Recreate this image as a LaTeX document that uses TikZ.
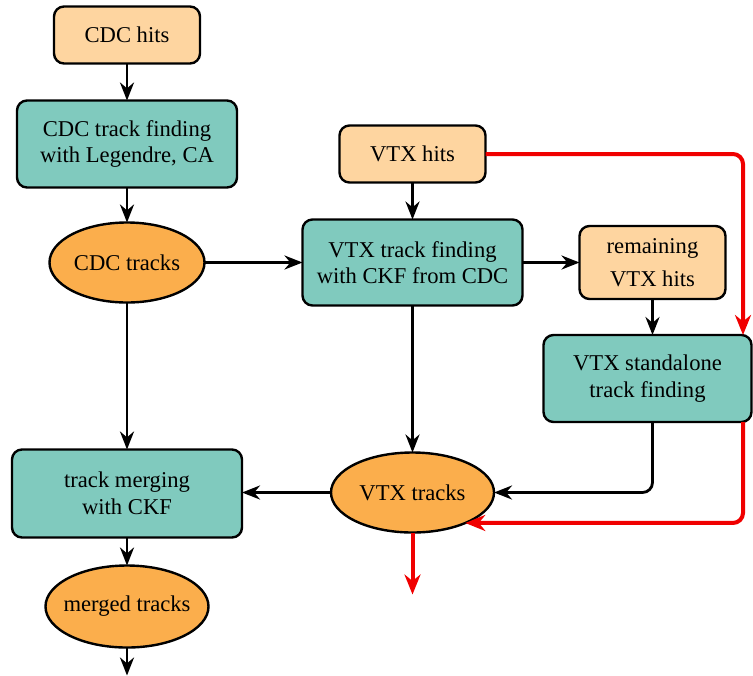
\documentclass[tikz,border=0pt]{standalone}
\usepackage{fontspec}
\setmainfont{Liberation Serif}
\usetikzlibrary{arrows.meta}
\usetikzlibrary{positioning}
\usetikzlibrary{shapes.geometric}

\definecolor{hitfill}{RGB}{254,213,160}
\definecolor{algfill}{RGB}{128,202,190}
\definecolor{trkfill}{RGB}{251,174,76}
\definecolor{redline}{RGB}{240,0,0}

\tikzset{
  hits/.style={draw, line width=1.2pt, outer sep=0pt, rounded corners=5pt, fill=hitfill, align=center,
    minimum width=73pt, minimum height=28.5pt, font=\fontsize{11.3}{13.3}\selectfont},
  algo/.style={draw, line width=1.2pt, outer sep=0pt, rounded corners=5pt, fill=algfill, align=center,
    minimum width=110pt, minimum height=43.5pt, font=\fontsize{11.3}{13.3}\selectfont},
  tracks/.style={draw, ellipse, line width=1.2pt, outer sep=0pt, fill=trkfill, inner xsep=-3pt,
    minimum width=81.5pt, minimum height=40pt, font=\fontsize{11.3}{13.3}\selectfont},
  flow/.style={-{Stealth[length=9pt,width=7pt]}, line width=1.4pt},
  redflow/.style={-{Stealth[length=10pt,width=8pt]}, line width=2pt, draw=redline, rounded corners=5pt}
}

\begin{document}
\begin{tikzpicture}[x=0.5pt, y=-0.5pt]
    \useasboundingbox (0,0) rectangle (753,675);

    % CDC side
    \node [hits] (cdchits) at (127,35) {CDC hits};
    \node [algo, below=18.5pt of cdchits] (cdcfind) {CDC track finding\\with Legendre, CA};
    \node [tracks, minimum width=77.5pt, below=17.5pt of cdcfind] (cdctrk) {CDC tracks};
    \node [algo, minimum width=115pt, minimum height=44pt, below=73.5pt of cdctrk] (merge) {track merging\\with CKF};
    \node [tracks, minimum height=41pt, below=14pt of merge] (merged) {merged tracks};
    \coordinate [below=14pt of merged] (mergedout);

    % VTX side
    \node [algo, minimum height=43pt, right=49pt of cdctrk] (vtxfind) {VTX track finding\\with CKF from CDC};
    \node [hits, above=18.5pt of vtxfind] (vtxhits) {VTX hits};
    \node [tracks, below=73.5pt of vtxfind] (vtxtrk) {VTX tracks};
    \coordinate [below=31pt of vtxtrk] (vtxout);
    \node [hits, minimum height=36.5pt, right=28.5pt of vtxfind] (remain) {remaining\\[3pt]VTX hits};
    \node [algo, minimum width=104pt, below=18pt of remain, xshift=-2.5pt] (stand) {VTX standalone\\track finding};
    \coordinate (rail) at (743,0);

    \draw [flow] (cdchits) -- (cdcfind);
    \draw [flow] (cdcfind) -- (cdctrk);
    \draw [flow] (cdctrk) -- (merge);
    \draw [flow] (merge) -- (merged);
    \draw [flow] (merged) -- (mergedout);
    \draw [flow] (cdctrk) -- (vtxfind);
    \draw [flow] (vtxhits) -- (vtxfind);
    \draw [flow] (vtxfind) -- (vtxtrk);
    \draw [flow] (vtxfind) -- (remain);
    \draw [flow] (remain.south) -- (remain.south |- stand.north);
    \draw [flow, rounded corners=5pt] (remain.south |- stand.south) |- (vtxtrk.east);
    \draw [flow] (vtxtrk.west) -- (vtxtrk.west -| merge.east);

    % shortcut for standalone tracks
    \draw [redflow] (vtxhits.east) -| (rail |- stand.north);
    \draw [redflow] (rail |- stand.south) |- (vtxtrk.-30);
    \draw [redflow] (vtxtrk.south) -- (vtxout);
\end{tikzpicture}
\end{document}
